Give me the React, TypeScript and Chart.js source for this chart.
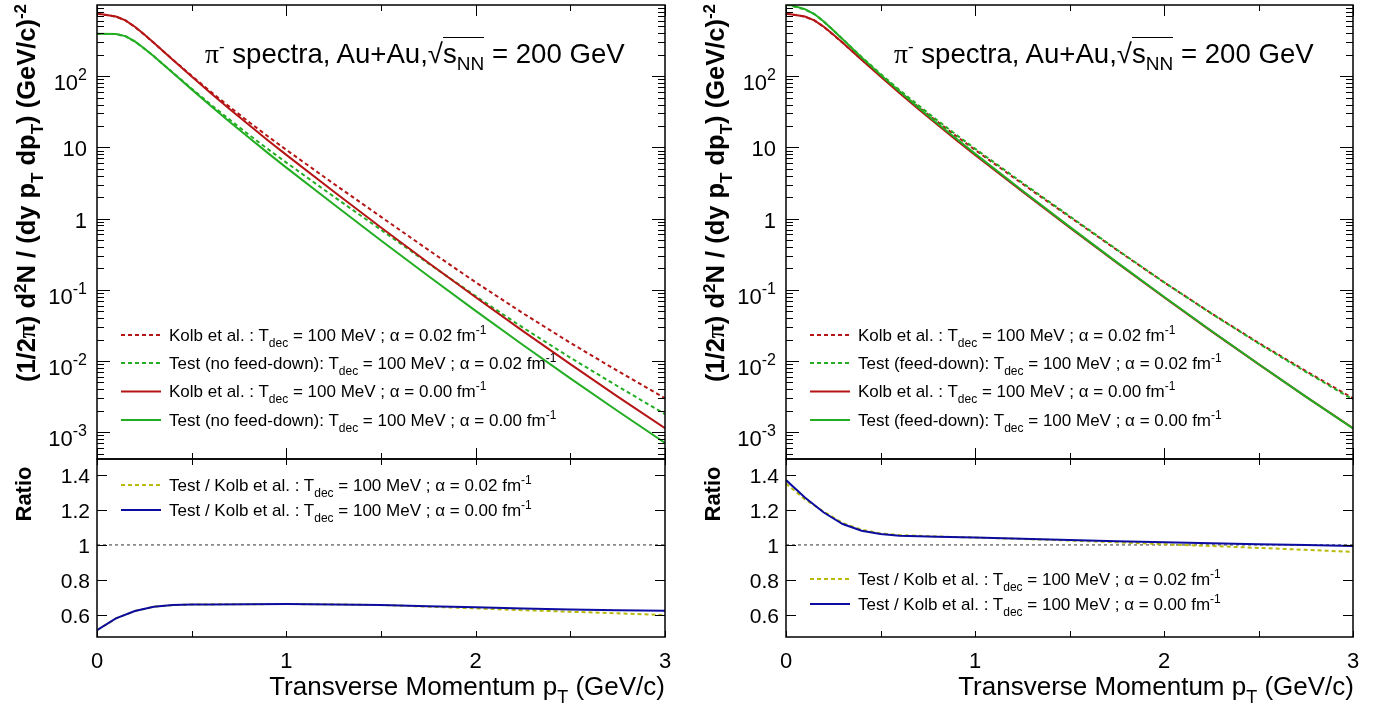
import React, { useEffect, useRef } from "react";
import { Chart, registerables } from "chart.js";

Chart.register(...registerables);

// ---------------- data ----------------
const PT = [0, 0.1, 0.15, 0.2, 0.25, 0.3, 0.4, 0.5, 0.6, 0.7, 0.8, 0.9, 1.0, 1.25, 1.5, 1.75, 2.0, 2.25, 2.5, 2.75, 3.0];
const kolbA000 = [758.6, 690, 609.5, 495.5, 384.6, 295.1, 169.8, 98.9, 58.2, 34.7, 20.9, 12.74, 7.85, 2.399, 0.75, 0.24, 0.0785, 0.0263, 0.00902, 0.00316, 0.001135];
const kolbA002 = [755, 687, 607, 493, 383, 294, 171.4, 101.2, 60.7, 37.2, 23.0, 14.45, 9.23, 3.09, 1.059, 0.363, 0.1274, 0.0468, 0.01799, 0.00724, 0.00299];
const testNoFdA000 = [394.5, 391.9, 365.7, 308.7, 244.6, 191.2, 111.6, 65.3, 38.5, 22.95, 13.84, 8.44, 5.2, 1.586, 0.4928, 0.1562, 0.05055, 0.01678, 0.0057, 0.001985, 0.000708];
const testNoFdA002 = [392.6, 390.2, 364.2, 307.1, 243.6, 190.5, 112.6, 66.8, 40.1, 24.6, 15.23, 9.57, 6.12, 2.04, 0.696, 0.2352, 0.0813, 0.02939, 0.01114, 0.004416, 0.001794];
const testFdA000 = [1039, 876, 746.6, 587.2, 442.3, 330.2, 183.6, 105.0, 61.3, 36.4, 21.9, 13.3, 8.18, 2.483, 0.771, 0.245, 0.0797, 0.02654, 0.009056, 0.003157, 0.001128];
const testFdA002 = [1019, 865.6, 743.6, 586.7, 442.4, 330.8, 186.3, 107.9, 64.1, 39.1, 24.1, 15.1, 9.62, 3.195, 1.085, 0.3684, 0.1279, 0.04652, 0.01768, 0.00704, 0.00287];

const PT_R = [0, 0.1, 0.2, 0.3, 0.4, 0.5, 0.6, 0.8, 1.0, 1.25, 1.5, 1.75, 2.0, 2.25, 2.5, 2.75, 3.0];
const ratioNoFdA000 = [0.514, 0.581, 0.623, 0.648, 0.657, 0.66, 0.661, 0.662, 0.663, 0.661, 0.657, 0.651, 0.644, 0.638, 0.632, 0.628, 0.624];
const ratioNoFdA002 = [0.514, 0.581, 0.623, 0.648, 0.657, 0.66, 0.661, 0.662, 0.663, 0.661, 0.657, 0.648, 0.638, 0.628, 0.619, 0.61, 0.6];
const ratioFdA000 = [1.37, 1.27, 1.185, 1.119, 1.081, 1.062, 1.053, 1.047, 1.042, 1.035, 1.028, 1.021, 1.015, 1.009, 1.004, 0.999, 0.994];
const ratioFdA002 = [1.35, 1.26, 1.19, 1.125, 1.087, 1.066, 1.056, 1.048, 1.042, 1.034, 1.025, 1.015, 1.004, 0.994, 0.983, 0.972, 0.96];
const UNITY_X = [0, 3];
const UNITY_Y = [1, 1];

const X_MAJOR = [0, 1, 2, 3];
const X_MINOR = [0.5, 1.5, 2.5];
const X_LABELS = ["0", "1", "2", "3"];
const Y_DECADES = [1e-3, 1e-2, 1e-1, 1, 10, 100];
const Y_DECADE_BASE = ["10", "10", "10", "1", "10", "10"];
const Y_DECADE_EXP = ["-3", "-2", "-1", "", "", "2"];
const R_TICKS = [0.6, 0.8, 1.0, 1.2, 1.4];
const R_LABELS = ["0.6", "0.8", "1", "1.2", "1.4"];

const Y_MIN = 4.2e-4;
const Y_MAX = 1000;
const R_MIN = 0.475;
const R_MAX = 1.49;

// ---------------- style ----------------
const FONT = "'Liberation Sans', Arial, Helvetica, sans-serif";
const RED = "#b51515";
const GREEN = "#22ad22";
const BLUE = "#0c0ca0";
const YELLOW = "#b9b90c";
const DOT = [4, 3];

const PANELS = [
  { left: 97, right: 665 },
  { left: 786, right: 1353 },
];
const TOP_Y = 5;
const MID_Y = 459;
const BOT_Y = 637;

const pts = (xs: number[], ys: number[]) => xs.map((x, i) => ({ x, y: ys[i] }));

const logMinor: number[] = [];
for (let n = -4; n <= 2; n++) {
  for (let k = 2; k <= 9; k++) {
    const v = k * Math.pow(10, n);
    if (v > Y_MIN && v < Y_MAX) logMinor.push(v);
  }
}

const frameTicks = {
  id: "frameTicks",
  afterDatasetsDraw(chart: any, _args: any, opts: any) {
    const { ctx, chartArea: ca } = chart;
    const xs = chart.scales.x;
    const ys = chart.scales.y;
    ctx.save();
    ctx.strokeStyle = "#000";
    ctx.lineWidth = 1;
    ctx.beginPath();
    for (const t of opts.xTicks) {
      const p = Math.round(xs.getPixelForValue(t.v)) + 0.5;
      ctx.moveTo(p, ca.bottom);
      ctx.lineTo(p, ca.bottom - t.len);
      ctx.moveTo(p, ca.top);
      ctx.lineTo(p, ca.top + t.len);
    }
    for (const t of opts.yTicks) {
      const p = Math.round(ys.getPixelForValue(t.v)) + 0.5;
      ctx.moveTo(ca.left, p);
      ctx.lineTo(ca.left + t.len, p);
      ctx.moveTo(ca.right, p);
      ctx.lineTo(ca.right - t.len, p);
    }
    ctx.stroke();
    ctx.lineWidth = 1.5;
    ctx.strokeRect(ca.left, ca.top, ca.right - ca.left, ca.bottom - ca.top);
    ctx.fillStyle = "#000";
    ctx.textBaseline = "alphabetic";
    for (const l of opts.yLabels) {
      const p = ys.getPixelForValue(l.v);
      const rx = ca.left - opts.yGap;
      ctx.textAlign = "right";
      if (l.exp) {
        ctx.font = `${opts.expSize}px ${FONT}`;
        const ew = ctx.measureText(l.exp).width;
        ctx.fillText(l.exp, rx, p + opts.expDy);
        ctx.font = `${opts.labelSize}px ${FONT}`;
        ctx.fillText(l.base, rx - ew, p + opts.baseExpDy);
      } else {
        ctx.font = `${opts.labelSize}px ${FONT}`;
        ctx.fillText(l.base, rx, p + opts.baseDy);
      }
    }
    if (opts.xLabels) {
      ctx.textAlign = "center";
      ctx.font = `${opts.xLabelSize}px ${FONT}`;
      for (const l of opts.xLabels) {
        const p = xs.getPixelForValue(l.v);
        ctx.fillText(l.text, p, ca.bottom + opts.xLabelDy);
      }
    }
    ctx.restore();
  },
};

function lineDs(data: any[], color: string, dashed: boolean, order: number, width = 2) {
  return {
    data,
    borderColor: color,
    borderWidth: width,
    borderDash: dashed ? DOT : [],
    pointRadius: 0,
    fill: false,
    tension: 0,
    order,
  };
}

function spectraConfig(kolb2: number[], test2: number[], kolb0: number[], test0: number[]) {
  return {
    type: "line",
    data: {
      datasets: [
        lineDs(pts(PT, test0), GREEN, false, 0),
        lineDs(pts(PT, kolb0), RED, false, 1),
        lineDs(pts(PT, test2), GREEN, true, 2),
        lineDs(pts(PT, kolb2), RED, true, 3),
      ],
    },
    options: {
      animation: false,
      responsive: false,
      events: [],
      layout: { padding: { left: 97, top: TOP_Y, right: 16, bottom: 470 - MID_Y } },
      scales: {
        x: { type: "linear", min: 0, max: 3, display: false },
        y: { type: "logarithmic", min: Y_MIN, max: Y_MAX, display: false },
      },
      plugins: {
        legend: { display: false },
        tooltip: { enabled: false },
        frameTicks: {
          xTicks: [...X_MAJOR.map((v) => ({ v, len: 11 })), ...X_MINOR.map((v) => ({ v, len: 6 }))],
          yTicks: [...Y_DECADES.map((v) => ({ v, len: 13 })), ...logMinor.map((v) => ({ v, len: 7 }))],
          yLabels: Y_DECADES.map((v, i) => ({ v, base: Y_DECADE_BASE[i], exp: Y_DECADE_EXP[i] })),
          yGap: 10,
          labelSize: 22,
          expSize: 16,
          expDy: 4,
          baseExpDy: 14,
          baseDy: 9,
        },
      },
    },
    plugins: [frameTicks],
  };
}

function ratioConfig(r2: number[], r0: number[]) {
  return {
    type: "line",
    data: {
      datasets: [
        lineDs(pts(PT_R, r0), BLUE, false, 0),
        lineDs(pts(PT_R, r2), YELLOW, true, 1),
        { ...lineDs(pts(UNITY_X, UNITY_Y), "#333", true, 2, 1), borderDash: [3, 3] },
      ],
    },
    options: {
      animation: false,
      responsive: false,
      events: [],
      layout: { padding: { left: 97, top: MID_Y - 450, right: 16, bottom: 709 - BOT_Y } },
      scales: {
        x: { type: "linear", min: 0, max: 3, display: false },
        y: { type: "linear", min: R_MIN, max: R_MAX, display: false },
      },
      plugins: {
        legend: { display: false },
        tooltip: { enabled: false },
        frameTicks: {
          xTicks: [...X_MAJOR, ...X_MINOR].map((v) => ({ v, len: 6 })),
          yTicks: R_TICKS.map((v) => ({ v, len: 10 })),
          yLabels: R_TICKS.map((v, i) => ({ v, base: R_LABELS[i], exp: "" })),
          yGap: 7,
          labelSize: 21,
          expSize: 16,
          expDy: 4,
          baseExpDy: 14,
          baseDy: 8,
          xLabels: X_MAJOR.map((v, i) => ({ v, text: X_LABELS[i] })),
          xLabelSize: 22,
          xLabelDy: 31,
        },
      },
    },
    plugins: [frameTicks],
  };
}

function ChartCanvas({ left, top, width, height, config }: any) {
  const ref = useRef<HTMLCanvasElement>(null);
  useEffect(() => {
    const chart = new Chart(ref.current as HTMLCanvasElement, config);
    return () => chart.destroy();
  }, []);
  return (
    <canvas
      ref={ref}
      width={width}
      height={height}
      style={{ position: "absolute", left, top, width, height }}
    />
  );
}

const sub = (fs: number, dy: number) => ({ fontSize: fs, position: "relative" as const, top: dy });

function LegendText({ prefix, alpha }: { prefix: string; alpha: string }) {
  return (
    <span>
      {prefix}T<span style={sub(12, 6)}>dec</span> = 100 MeV ; α = {alpha} fm<span style={sub(12, -7)}>-1</span>
    </span>
  );
}

function Text({ x, y, size, children, bold = false, right = false }: any) {
  const style: any = {
    position: "absolute",
    top: y - size / 2,
    fontSize: size,
    lineHeight: `${size}px`,
    whiteSpace: "nowrap",
    fontFamily: FONT,
    fontWeight: bold ? "bold" : "normal",
    color: "#000",
  };
  if (right) style.right = 1386 - x;
  else style.left = x;
  return <div style={style}>{children}</div>;
}

function VText({ cx, cy, size, children }: any) {
  return (
    <div style={{ position: "absolute", left: cx, top: cy, width: 0, height: 0 }}>
      <div
        style={{
          position: "absolute",
          left: 0,
          top: 0,
          transform: "translate(-50%, -50%) rotate(-90deg)",
          fontSize: size,
          lineHeight: `${size}px`,
          fontWeight: "bold",
          whiteSpace: "nowrap",
          fontFamily: FONT,
        }}
      >
        {children}
      </div>
    </div>
  );
}

function Panel({ idx }: { idx: number }) {
  const p = PANELS[idx];
  const dx = p.left - PANELS[0].left;
  const cl = p.left - 97;
  const cw = p.right - cl + 16;
  const spec = idx === 0
    ? spectraConfig(kolbA002, testNoFdA002, kolbA000, testNoFdA000)
    : spectraConfig(kolbA002, testFdA002, kolbA000, testFdA000);
  const rat = idx === 0 ? ratioConfig(ratioNoFdA002, ratioNoFdA000) : ratioConfig(ratioFdA002, ratioFdA000);
  const testName = idx === 0 ? "Test (no feed-down): " : "Test (feed-down): ";
  const legendRows = [
    { y: 335, color: RED, dashed: true, prefix: "Kolb et al. : ", alpha: "0.02" },
    { y: 363, color: GREEN, dashed: true, prefix: testName, alpha: "0.02" },
    { y: 391.5, color: RED, dashed: false, prefix: "Kolb et al. : ", alpha: "0.00" },
    { y: 420, color: GREEN, dashed: false, prefix: testName, alpha: "0.00" },
  ];
  const ratioY = idx === 0 ? [485, 510] : [579, 604];
  const ratioRows = [
    { y: ratioY[0], color: YELLOW, dashed: true, alpha: "0.02" },
    { y: ratioY[1], color: BLUE, dashed: false, alpha: "0.00" },
  ];
  const lx1 = 121 + dx;
  const lx2 = 161 + dx;
  return (
    <>
      <ChartCanvas left={cl} top={0} width={cw} height={470} config={spec} />
      <ChartCanvas left={cl} top={450} width={cw} height={259} config={rat} />
      <svg
        width={1386}
        height={709}
        style={{ position: "absolute", left: 0, top: 0, pointerEvents: "none" }}
      >
        {[...legendRows, ...ratioRows].map((r, i) => (
          <line
            key={i}
            x1={lx1}
            x2={lx2}
            y1={r.y}
            y2={r.y}
            stroke={r.color}
            strokeWidth={2}
            strokeDasharray={r.dashed ? "4 3" : undefined}
          />
        ))}
      </svg>
      {legendRows.map((r, i) => (
        <Text key={"l" + i} x={169 + dx} y={r.y} size={17}>
          <LegendText prefix={r.prefix} alpha={r.alpha} />
        </Text>
      ))}
      {ratioRows.map((r, i) => (
        <Text key={"r" + i} x={169 + dx} y={r.y} size={17}>
          <LegendText prefix="Test / Kolb et al. : " alpha={r.alpha} />
        </Text>
      ))}
      <Text x={205 + dx} y={54} size={27.6}>
        <span style={{ fontFamily: "'Liberation Serif', serif" }}>π</span>
        <span style={sub(17, -11)}>-</span> spectra, Au+Au,
        <span>√</span>
        <span style={{ borderTop: "1.5px solid #000" }}>
          s<span style={sub(19, 7)}>NN</span>
        </span>{" "}
        = 200 GeV
      </Text>
      <Text x={665 + dx} y={686} size={26} right>
        Transverse Momentum p<span style={sub(18, 8)}>T</span> (GeV/c)
      </Text>
      <VText cx={28 + dx} cy={193} size={25.5}>
        (1/2<span style={{ fontFamily: "'Liberation Serif', serif" }}>π</span>) d
        <span style={sub(17, -9)}>2</span>N / (dy p<span style={sub(17, 8)}>T</span> dp
        <span style={sub(17, 8)}>T</span>) (GeV/c)<span style={sub(17, -9)}>-2</span>
      </VText>
      <VText cx={24 + dx} cy={494} size={22}>
        Ratio
      </VText>
    </>
  );
}

export default function App() {
  return (
    <div
      style={{
        position: "absolute",
        left: 0,
        top: 0,
        width: 1386,
        height: 709,
        background: "#fff",
        overflow: "hidden",
      }}
    >
      <Panel idx={0} />
      <Panel idx={1} />
    </div>
  );
}
